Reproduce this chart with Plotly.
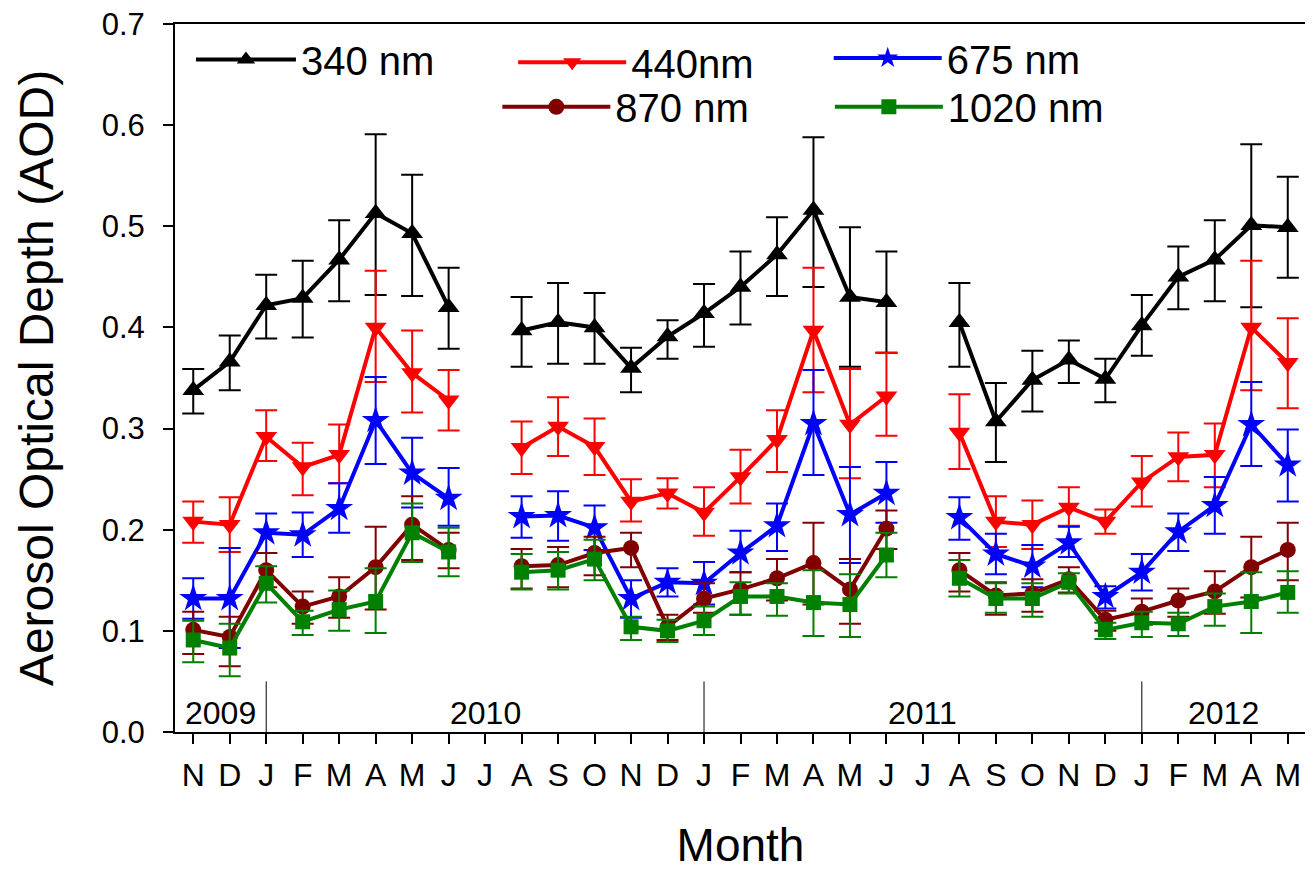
import plotly.graph_objects as go

# ---- data ----
months = ["N", "D", "J", "F", "M", "A", "M", "J", "J", "A", "S", "O", "N", "D",
          "J", "F", "M", "A", "M", "J", "J", "A", "S", "O", "N", "D",
          "J", "F", "M", "A", "M"]
start_month = 11  # November 2009
years = ["2009", "2010", "2011", "2012"]

aod_340 = [0.338, 0.366, 0.422, 0.429, 0.467, 0.513, 0.493, 0.420, None, 0.397, 0.405, 0.400, 0.360, 0.391,
           0.414, 0.440, 0.472, 0.516, 0.430, 0.425, None, 0.405, 0.307, 0.348, 0.368, 0.349,
           0.402, 0.450, 0.467, 0.501, 0.499]
up_340 = [0.359, 0.392, 0.452, 0.466, 0.506, 0.591, 0.551, 0.459, None, 0.430, 0.444, 0.434, 0.380, 0.407,
          0.443, 0.475, 0.509, 0.588, 0.499, 0.475, None, 0.444, 0.345, 0.377, 0.387, 0.369,
          0.432, 0.480, 0.506, 0.581, 0.549]
lo_340 = [0.315, 0.338, 0.389, 0.390, 0.426, 0.432, 0.431, 0.379, None, 0.361, 0.364, 0.364, 0.336, 0.369,
          0.381, 0.403, 0.431, 0.440, 0.361, 0.375, None, 0.361, 0.267, 0.317, 0.345, 0.326,
          0.372, 0.418, 0.426, 0.420, 0.449]

aod_440 = [0.208, 0.205, 0.292, 0.262, 0.274, 0.400, 0.355, 0.328, None, 0.281, 0.302, 0.282, 0.228, 0.236,
           0.217, 0.252, 0.289, 0.397, 0.304, 0.332, None, 0.296, 0.208, 0.205, 0.222, 0.208,
           0.247, 0.272, 0.274, 0.400, 0.365]
up_440 = [0.228, 0.232, 0.318, 0.286, 0.304, 0.456, 0.397, 0.358, None, 0.307, 0.331, 0.310, 0.250, 0.251,
          0.242, 0.279, 0.318, 0.459, 0.359, 0.375, None, 0.334, 0.233, 0.229, 0.242, 0.220,
          0.273, 0.296, 0.305, 0.466, 0.409]
lo_440 = [0.187, 0.178, 0.268, 0.234, 0.246, 0.346, 0.316, 0.298, None, 0.255, 0.273, 0.254, 0.208, 0.221,
          0.194, 0.226, 0.257, 0.336, 0.251, 0.293, None, 0.260, 0.183, 0.181, 0.204, 0.196,
          0.223, 0.248, 0.242, 0.338, 0.320]

aod_675 = [0.132, 0.132, 0.197, 0.195, 0.221, 0.308, 0.256, 0.231, None, 0.213, 0.214, 0.202, 0.132, 0.148,
           0.147, 0.177, 0.204, 0.305, 0.215, 0.236, None, 0.212, 0.176, 0.164, 0.187, 0.134,
           0.158, 0.198, 0.224, 0.304, 0.264]
up_675 = [0.152, 0.182, 0.216, 0.217, 0.246, 0.351, 0.291, 0.261, None, 0.233, 0.238, 0.224, 0.150, 0.162,
          0.168, 0.199, 0.226, 0.358, 0.262, 0.267, None, 0.232, 0.196, 0.185, 0.203, 0.144,
          0.176, 0.216, 0.252, 0.346, 0.299]
lo_675 = [0.112, 0.083, 0.177, 0.173, 0.197, 0.265, 0.222, 0.204, None, 0.192, 0.189, 0.180, 0.113, 0.134,
          0.126, 0.158, 0.179, 0.254, 0.167, 0.207, None, 0.190, 0.156, 0.143, 0.173, 0.122,
          0.140, 0.179, 0.196, 0.263, 0.228]

aod_870 = [0.101, 0.094, 0.160, 0.124, 0.134, 0.163, 0.205, 0.180, None, 0.164, 0.165, 0.177, 0.182, 0.104,
           0.132, 0.141, 0.152, 0.167, 0.141, 0.201, None, 0.160, 0.135, 0.137, 0.151, 0.111,
           0.119, 0.130, 0.139, 0.163, 0.180]
up_870 = [0.119, 0.114, 0.177, 0.139, 0.153, 0.203, 0.233, 0.197, None, 0.181, 0.183, 0.193, 0.197, 0.116,
          0.147, 0.158, 0.171, 0.207, 0.171, 0.219, None, 0.177, 0.148, 0.151, 0.163, 0.120,
          0.132, 0.142, 0.159, 0.193, 0.207]
lo_870 = [0.077, 0.065, 0.143, 0.107, 0.113, 0.121, 0.170, 0.162, None, 0.142, 0.143, 0.155, 0.163, 0.091,
          0.118, 0.116, 0.130, 0.126, 0.107, 0.181, None, 0.139, 0.116, 0.119, 0.138, 0.100,
          0.106, 0.114, 0.117, 0.133, 0.150]

aod_1020 = [0.091, 0.083, 0.147, 0.109, 0.121, 0.129, 0.197, 0.178, None, 0.158, 0.160, 0.171, 0.104, 0.100,
            0.110, 0.134, 0.134, 0.128, 0.126, 0.175, None, 0.152, 0.132, 0.132, 0.148, 0.101,
            0.108, 0.107, 0.124, 0.129, 0.138]
up_1020 = [0.110, 0.107, 0.164, 0.120, 0.140, 0.162, 0.226, 0.202, None, 0.176, 0.178, 0.190, 0.114, 0.111,
           0.124, 0.148, 0.147, 0.160, 0.156, 0.197, None, 0.170, 0.147, 0.147, 0.157, 0.108,
           0.119, 0.118, 0.137, 0.158, 0.159]
lo_1020 = [0.069, 0.055, 0.128, 0.096, 0.100, 0.098, 0.168, 0.154, None, 0.141, 0.141, 0.150, 0.091, 0.089,
           0.096, 0.116, 0.115, 0.095, 0.094, 0.153, None, 0.134, 0.118, 0.114, 0.137, 0.092,
           0.094, 0.095, 0.105, 0.098, 0.118]

series = [
    ("340 nm", aod_340, up_340, lo_340, "#000000", "triangle-up", 19),
    ("440nm", aod_440, up_440, lo_440, "#FF0000", "triangle-down", 19),
    ("675 nm", aod_675, up_675, lo_675, "#0000FF", "star", 21),
    ("870 nm", aod_870, up_870, lo_870, "#800000", "circle", 16),
    ("1020 nm", aod_1020, up_1020, lo_1020, "#008000", "square", 15),
]
# legend placement: (paper x, paper y, sample line width) per entry
legend_pos = [(0.0141, 0.950, 100), (0.2990, 0.946, 108), (0.5780, 0.952, 108),
              (0.2850, 0.883, 108), (0.5790, 0.883, 108)]

FONT = "Liberation Sans, Arial, sans-serif"
x = list(range(len(months)))

fig = go.Figure()
legend_layout = {}
for k, (name, val, up, lo, color, sym, msize) in enumerate(series):
    plus = [None if v is None else round(u - v, 4) for v, u in zip(val, up)]
    minus = [None if v is None else round(v - l, 4) for v, l in zip(val, lo)]
    leg = "legend" if k == 0 else f"legend{k + 1}"
    fig.add_trace(go.Scatter(
        x=x, y=val, name=name, mode="lines+markers", legend=leg,
        connectgaps=False,
        line=dict(color=color, width=4),
        marker=dict(symbol=sym, size=msize, color=color),
        error_y=dict(type="data", symmetric=False, array=plus, arrayminus=minus,
                     color=color, thickness=2, width=11),
    ))
    lx, ly, iw = legend_pos[k]
    legend_layout[leg] = dict(x=lx, y=ly, xanchor="left", yanchor="middle", itemwidth=iw,
                              font=dict(family=FONT, size=40, color="black"),
                              bgcolor="rgba(0,0,0,0)")

# year separators and labels
jan_idx = [i for i in range(len(months)) if (start_month - 1 + i) % 12 == 0]
for j in jan_idx:
    fig.add_shape(type="line", xref="x", yref="y", x0=j, x1=j, y0=0, y1=0.05,
                  line=dict(color="black", width=1))
bounds = [-0.5] + jan_idx + [len(months) - 0.5]
for k, yr in enumerate(years):
    fig.add_annotation(x=(bounds[k] + bounds[k + 1]) / 2, y=0.019, xref="x", yref="y",
                       text=yr, showarrow=False, font=dict(family=FONT, size=32, color="black"))

# the page places the figure 8px in from the top-left corner
fig.update_layout(
    width=1305, height=863,
    margin=dict(l=167, r=7, t=16, b=139, autoexpand=False),
    paper_bgcolor="white", plot_bgcolor="white",
    font=dict(family=FONT, color="black"),
    showlegend=True,
    **legend_layout,
    xaxis=dict(
        range=[-0.5, len(months) - 0.5], tickmode="array", tickvals=x, ticktext=months,
        ticks="outside", ticklen=10, tickwidth=1.5, tickcolor="black",
        showline=True, linecolor="black", linewidth=2, mirror=True,
        showgrid=False, zeroline=False, ticklabelstandoff=4, automargin=False,
        ticklabeloverflow="allow",
        tickfont=dict(family=FONT, size=32, color="black"),
        title=dict(text="Month", font=dict(family=FONT, size=46, color="black"), standoff=41),
    ),
    yaxis=dict(
        range=[0, 0.7], tickmode="array", tickvals=[0, 0.1, 0.2, 0.3, 0.4, 0.5, 0.6, 0.7],
        tickformat=".1f",
        ticks="outside", ticklen=10, tickwidth=1.5, tickcolor="black",
        showline=True, linecolor="black", linewidth=2, mirror=True,
        showgrid=False, zeroline=False, ticklabelstandoff=12, automargin=False,
        ticklabeloverflow="allow",
        tickfont=dict(family=FONT, size=31, color="black"),
        title=dict(text="Aerosol Optical Depth (AOD)", font=dict(family=FONT, size=48, color="black"),
                   standoff=33),
    ),
)

fig.write_html("out.html")
